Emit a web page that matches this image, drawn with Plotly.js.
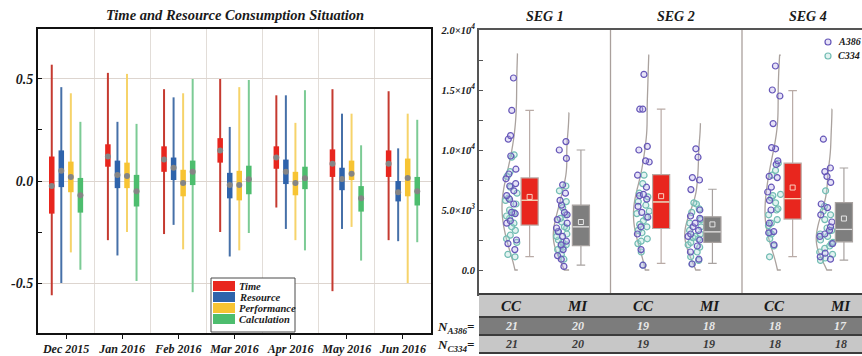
<!DOCTYPE html>
<html><head><meta charset="utf-8">
<script src="https://cdn.plot.ly/plotly-3.0.1.min.js"></script>
<style>html,body{margin:0;padding:0;overflow:hidden;background:#fff}</style>
</head><body><div id="chart" style="width:862px;height:356px"></div>
<script>
// ---------------- LEFT PANEL DATA ----------------
const MONTHS = ['Dec 2015','Jan 2016','Feb 2016','Mar 2016','Apr 2016','May 2016','Jun 2016'];
const SERIES = ['Time','Resource','Performance','Calculation'];

const TIME_MAX = [0.57, 0.53, 0.45, 0.50, 0.42, 0.45, 0.44];
const TIME_Q3  = [0.12, 0.18, 0.17, 0.21, 0.17, 0.155, 0.15];
const TIME_MED = [-0.025, 0.12, 0.105, 0.15, 0.115, 0.085, 0.085];
const TIME_Q1  = [-0.16, 0.07, 0.045, 0.09, 0.06, 0.02, 0.02];
const TIME_MIN = [-0.56, -0.29, -0.26, -0.25, -0.13, -0.54, -0.29];

const RES_MAX = [0.46, 0.29, 0.41, 0.265, 0.42, 0.33, 0.16];
const RES_Q3  = [0.15, 0.10, 0.115, 0.04, 0.105, 0.065, 0.0];
const RES_MED = [0.05, 0.03, 0.065, -0.02, 0.045, 0.01, -0.055];
const RES_Q1  = [-0.03, -0.035, 0.005, -0.085, -0.015, -0.045, -0.10];
const RES_MIN = [-0.50, -0.365, -0.215, -0.37, -0.235, -0.235, -0.295];

const PERF_MAX = [0.43, 0.525, 0.43, 0.46, 0.285, 0.33, 0.33];
const PERF_Q3  = [0.095, 0.09, 0.055, 0.05, 0.045, 0.10, 0.11];
const PERF_MED = [0.02, 0.025, -0.01, -0.02, -0.01, 0.035, 0.015];
const PERF_Q1  = [-0.055, -0.035, -0.075, -0.095, -0.07, 0.005, -0.075];
const PERF_MIN = [-0.35, -0.25, -0.335, -0.34, -0.29, -0.225, -0.50];

const CALC_MAX = [0.29, 0.28, 0.50, 0.495, 0.445, 0.175, 0.30];
const CALC_Q3  = [0.015, 0.03, 0.10, 0.075, 0.07, -0.025, 0.02];
const CALC_MED = [-0.07, -0.05, 0.045, 0.008, 0.013, -0.085, -0.05];
const CALC_Q1  = [-0.155, -0.125, -0.02, -0.065, -0.04, -0.15, -0.12];
const CALC_MIN = [-0.435, -0.49, -0.545, -0.255, -0.34, -0.39, -0.30];

// ---------------- RIGHT PANEL DATA ----------------
const SEGMENTS = ['SEG 1','SEG 2','SEG 4'];
const CATS = ['CC','MI','CC','MI','CC','MI'];
const N_A386 = [21, 20, 19, 18, 18, 17];
const N_C334 = [21, 20, 19, 19, 18, 18];

const A386 = [
  [16000,13300,11200,10900,9500,8400,8000,7600,7200,7000,6600,6200,5900,5500,4800,4700,4100,3900,2500,2200,1700],
  [10700,10000,9300,7100,6400,5800,5400,4800,4600,4200,3900,3500,3200,2800,2400,2100,1700,1200,900,300],
  [16300,13400,13400,10300,10000,9100,9000,7900,6900,6300,6200,5900,5300,4800,4400,3600,3000,1700,400],
  [10100,9400,7700,7500,6700,5000,4500,4300,3900,3600,3300,3000,2800,2500,2000,1500,900,500],
  [17000,15000,14500,12200,10200,10100,9100,8800,7800,7700,6900,6500,5800,5000,3900,3200,3100,2100],
  [10900,8500,8200,7800,7300,5500,5200,4600,4000,3600,3300,3000,2800,2200,1400,1100,900]
];
const C334 = [
  [9600,9400,8200,7800,6900,6400,6000,5800,5500,5000,4800,4500,4300,3900,3600,3300,2900,2600,2300,1300,1100],
  [7000,6600,5700,5200,4600,4300,4000,3600,3500,3200,3000,2800,2500,2300,2100,2000,1900,1700,1300,900],
  [7900,7200,6400,6100,5700,5400,4900,4700,4400,4100,3800,3600,3300,3100,2600,2400,2200,1500,400],
  [5600,5500,5100,4800,4200,3900,3600,3300,3000,2800,2700,2600,2300,2100,1900,1500,1100,800,500],
  [8900,8300,7900,6300,6200,6000,5600,5100,5000,4600,4200,3900,3700,3100,3000,2600,2000,1100],
  [6600,5300,4900,4600,4200,3500,3300,3000,2800,2500,2300,2200,2000,1800,1500,1300,1000,800]
];
const BOX_LO   = [1110, 410, 550, 550, 1110, 830];
const BOX_Q1   = [3740, 2020, 3460, 2300, 4240, 2350];
const BOX_MED  = [5810, 3600, 5670, 3180, 5950, 3380];
const BOX_Q3   = [7670, 5400, 7950, 4430, 8900, 5620];
const BOX_HI   = [13300, 10000, 13400, 6730, 14950, 8500];
const BOX_MEAN = [6090, 4000, 6150, 3800, 6870, 4290];
const VIOLIN_TOP = [18000, 13100, 17900, 12200, 17900, 13400];

const Y2_TICKS = [0, 5000, 10000, 15000, 20000];
const Y2_LABELS = ['0.0','5.0×10<sup>3</sup>','1.0×10<sup>4</sup>','1.5×10<sup>4</sup>','2.0×10<sup>4</sup>'];
const Y1_TICKS = [-0.5, 0, 0.5];
const Y1_LABELS = ['-0.5','0.0','0.5'];

// ---------------- STYLE ----------------
const FONT = 'Liberation Serif, Times New Roman, serif';
const BOXC = ['#e8261e','#2e63ab','#f7c433','#4dbd6e'];
const WHISC = ['#c53a30','#4670a8','#f6d36a','#7ccb95'];
const OFFS = [-0.255,-0.085,0.085,0.255];
const W = 862, H = 356;
const px = v => v / W, py = v => 1 - v / H;
const BI = t => '<b><i>' + t + '</i></b>';

const leftStats = [
  [TIME_MIN, TIME_Q1, TIME_MED, TIME_Q3, TIME_MAX],
  [RES_MIN, RES_Q1, RES_MED, RES_Q3, RES_MAX],
  [PERF_MIN, PERF_Q1, PERF_MED, PERF_Q3, PERF_MAX],
  [CALC_MIN, CALC_Q1, CALC_MED, CALC_Q3, CALC_MAX]
];

const traces = [];
leftStats.forEach((s, k) => {
  const [mn, q1, md, q3, mx] = s;
  const xs = [], yw = [], yb = [];
  MONTHS.forEach((m, i) => {
    const x = i + OFFS[k];
    xs.push(x, x, null);
    yw.push(mn[i], mx[i], null);
    yb.push(q1[i], q3[i], null);
  });
  traces.push({type:'scatter', mode:'lines', x: xs, y: yw, xaxis:'x', yaxis:'y',
    line:{color: WHISC[k], width: 2}, showlegend:false, hoverinfo:'skip'});
  traces.push({type:'scatter', mode:'lines', x: xs, y: yb, xaxis:'x', yaxis:'y',
    line:{color: BOXC[k], width: 5.5}, name: SERIES[k], showlegend:false, hoverinfo:'skip'});
  traces.push({type:'scatter', mode:'markers', x: MONTHS.map((m,i)=>i+OFFS[k]), y: md, xaxis:'x', yaxis:'y',
    marker:{color:'#858585', size:6}, showlegend:false, hoverinfo:'skip'});
});

// right panel positions
const basePos = CATS.map((c, j) => j + (c === 'MI' ? -0.22 : 0));
const violinPos = basePos.map(b => b + 0.09);
const boxPos = basePos.map(b => b + 0.27);

CATS.forEach((c, j) => {
  const ys = A386[j].concat(C334[j]);
  traces.push({type:'violin', x: ys.map(() => violinPos[j]), y: ys, xaxis:'x2', yaxis:'y2',
    side:'negative', width:0.48, points:false, box:{visible:false}, meanline:{visible:false},
    spanmode:'manual', span:[0, VIOLIN_TOP[j]], fillcolor:'rgba(0,0,0,0)',
    line:{color:'#aaa29e', width:1.3}, showlegend:false, hoverinfo:'skip'});
});

function pointsTrace(data, name, lineCol, fillCol) {
  const xs = [], ys = [];
  data.forEach((arr, j) => arr.forEach(v => { xs.push(basePos[j]); ys.push(v); }));
  return {type:'box', x: xs, y: ys, xaxis:'x2', yaxis:'y2', name: name,
    boxpoints:'all', jitter:1, pointpos:0, width:0.22,
    fillcolor:'rgba(0,0,0,0)', line:{width:0, color:'rgba(0,0,0,0)'},
    marker:{symbol:'circle', size:6, color: fillCol, line:{color: lineCol, width:1.2}},
    showlegend:false, hoverinfo:'skip'};
}
traces.push(pointsTrace(C334, 'C334', '#72bcb3', 'rgba(175,222,215,0.35)'));
traces.push(pointsTrace(A386, 'A386', '#6657b8', 'rgba(185,175,235,0.35)'));

['CC','MI'].forEach(g => {
  const idx = CATS.map((c, j) => c === g ? j : -1).filter(j => j >= 0);
  traces.push({type:'box', x: idx.map(j => boxPos[j]),
    q1: idx.map(j => BOX_Q1[j]), median: idx.map(j => BOX_MED[j]), q3: idx.map(j => BOX_Q3[j]),
    lowerfence: idx.map(j => BOX_LO[j]), upperfence: idx.map(j => BOX_HI[j]),
    xaxis:'x2', yaxis:'y2', width:0.26, whiskerwidth:0.5, boxpoints:false,
    fillcolor: g === 'CC' ? '#e8261e' : '#7e7e7e',
    line:{color: g === 'CC' ? '#b9aba6' : '#a8a2a0', width:1.2}, showlegend:false, hoverinfo:'skip'});
  const mx = [], my = [];
  idx.forEach(j => { mx.push(boxPos[j]-0.125, boxPos[j]+0.125, null); my.push(BOX_MED[j], BOX_MED[j], null); });
  traces.push({type:'scatter', mode:'lines', x: mx, y: my, xaxis:'x2', yaxis:'y2',
    line:{color: g === 'CC' ? '#fbd0b0' : '#dedede', width:1.2}, showlegend:false, hoverinfo:'skip'});
  traces.push({type:'scatter', mode:'markers', x: idx.map(j => boxPos[j]), y: idx.map(j => BOX_MEAN[j]),
    xaxis:'x2', yaxis:'y2', marker:{symbol:'square-open', size:5, color: g === 'CC' ? '#fad2c2' : '#e6e6e6', line:{width:1}},
    showlegend:false, hoverinfo:'skip'});
});

// ---------------- SHAPES & ANNOTATIONS ----------------
const shapes = [], annotations = [];
const bi = (size, color) => ({family: FONT, size: size, color: color || '#1a1a1a'});

annotations.push({text: BI('Time and Resource Consumption Situation'), xref:'paper', yref:'paper',
  x: px(234.5), y: py(15), xanchor:'center', yanchor:'middle', showarrow:false, font: bi(14.5)});

// left legend
shapes.push({type:'rect', xref:'paper', yref:'paper', x0: px(211), x1: px(295), y0: py(332), y1: py(278),
  line:{color:'#4a4a4a', width:1}, fillcolor:'#ffffff', layer:'above'});
SERIES.forEach((s, k) => {
  const yc = 286 + k * 11;
  shapes.push({type:'rect', xref:'paper', yref:'paper', x0: px(213), x1: px(235), y0: py(yc + 5), y1: py(yc - 5),
    line:{width:0}, fillcolor: BOXC[k], layer:'above'});
  annotations.push({text: BI(s), xref:'paper', yref:'paper', x: px(237), y: py(yc + 0.5), xanchor:'left', yanchor:'middle',
    showarrow:false, font: bi(10.5)});
});

// right panel segment dividers
[1.5, 3.5].forEach(v => shapes.push({type:'line', xref:'x2', yref:'y2 domain', x0: v, x1: v, y0: 0, y1: 1,
  line:{color:'#aaa09c', width:1.3}}));

// SEG titles
SEGMENTS.forEach((s, i) => annotations.push({text: BI(s), xref:'x2', yref:'paper', x: 2*i + 0.5, y: py(17),
  xanchor:'center', yanchor:'middle', showarrow:false, font: bi(14)}));

// right legend
[['A386','#6657b8','rgba(185,175,235,0.35)', 42], ['C334','#72bcb3','rgba(175,222,215,0.35)', 56]].forEach(e => {
  shapes.push({type:'circle', xref:'paper', yref:'paper', x0: px(825), x1: px(831), y0: py(e[3]+3), y1: py(e[3]-3),
    line:{color: e[1], width:1.2}, fillcolor: e[2]});
  annotations.push({text: BI(e[0]), xref:'paper', yref:'paper', x: px(836), y: py(e[3]), xanchor:'left', yanchor:'middle',
    showarrow:false, font: bi(10)});
});

// table rows
const rows = [[294, 317, '#c7c7c7'], [317, 335, '#7c7c7c'], [335, 353, '#c7c7c7']];
rows.forEach(r => shapes.push({type:'rect', xref:'paper', yref:'paper', x0: px(479), x1: 1, y0: py(r[1]), y1: py(r[0]),
  line:{width:0}, fillcolor: r[2]}));
[294, 317, 335, 353].forEach(yv => shapes.push({type:'line', xref:'paper', yref:'paper', x0: px(479), x1: 1,
  y0: py(yv), y1: py(yv), line:{color:'#3c3c3c', width:2}}));
CATS.forEach((c, j) => {
  annotations.push({text: BI(c), xref:'x2', yref:'paper', x: j, y: py(305.5), xanchor:'center', yanchor:'middle', showarrow:false, font: bi(15)});
  annotations.push({text: BI(String(N_A386[j])), xref:'x2', yref:'paper', x: j, y: py(326), xanchor:'center', yanchor:'middle', showarrow:false, font: bi(12, '#e8e8e8')});
  annotations.push({text: BI(String(N_C334[j])), xref:'x2', yref:'paper', x: j, y: py(344), xanchor:'center', yanchor:'middle', showarrow:false, font: bi(12, '#3a3a3a')});
});
annotations.push({text: BI('N<sub>A386</sub>='), xref:'paper', yref:'paper', x: px(477), y: py(327), xanchor:'right', yanchor:'middle', showarrow:false, font: bi(13)});
annotations.push({text: BI('N<sub>C334</sub>='), xref:'paper', yref:'paper', x: px(477), y: py(345), xanchor:'right', yanchor:'middle', showarrow:false, font: bi(13)});

const layout = {
  width: W, height: H, margin:{l:0, r:0, t:0, b:0},
  paper_bgcolor:'#ffffff', plot_bgcolor:'#ffffff',
  showlegend:false, boxmode:'overlay', violinmode:'overlay',
  xaxis:{domain:[px(38), px(431)], range:[-0.5, 6.5], tickmode:'array', tickvals: MONTHS.map((m,i)=>i), ticktext: MONTHS.map(BI),
    showgrid:false, zeroline:false, showline:true, mirror:true, linecolor:'#111', linewidth:2,
    ticks:'outside', ticklen:4, tickcolor:'#111', tickfont: bi(12),
    minor:{tickmode:'array', tickvals: MONTHS.slice(1).map((m,i)=>i+0.5), showgrid:true, gridcolor:'#e2ddd8', ticks:''}},
  yaxis:{domain:[1-333/H, 1-29/H], range:[-0.745, 0.745], tickmode:'array', tickvals: Y1_TICKS, ticktext: Y1_LABELS.map(BI),
    showgrid:true, gridcolor:'#ddd5cf', zeroline:false, showline:true, mirror:true, linecolor:'#111', linewidth:2,
    ticks:'inside', ticklen:4, tickcolor:'#111', tickfont: bi(14),
    minor:{tickmode:'array', tickvals:[-0.25, 0.25], ticks:'inside', ticklen:4, tickcolor:'#111', showgrid:false}},
  xaxis2:{domain:[px(479), 1], range:[-0.5, 5.325], anchor:'y2', showticklabels:false, showgrid:false, zeroline:false,
    showline:true, mirror:true, linecolor:'#555', linewidth:2, ticks:''},
  yaxis2:{domain:[1-294/H, 1-30/H], range:[-2000, 20000], anchor:'x2', tickmode:'array',
    tickvals: Y2_TICKS, ticktext: Y2_LABELS.map(BI),
    showgrid:false, zeroline:false, showline:true, linecolor:'#555', linewidth:2,
    ticks:'inside', ticklen:4, tickcolor:'#555', tickfont: bi(10.5),
    minor:{tickmode:'array', tickvals:[2500, 7500, 12500, 17500], ticks:'inside', ticklen:4, tickcolor:'#555', showgrid:false}},
  shapes: shapes, annotations: annotations
};

Plotly.newPlot('chart', traces, layout, {staticPlot:true, displayModeBar:false});
</script></body></html>
